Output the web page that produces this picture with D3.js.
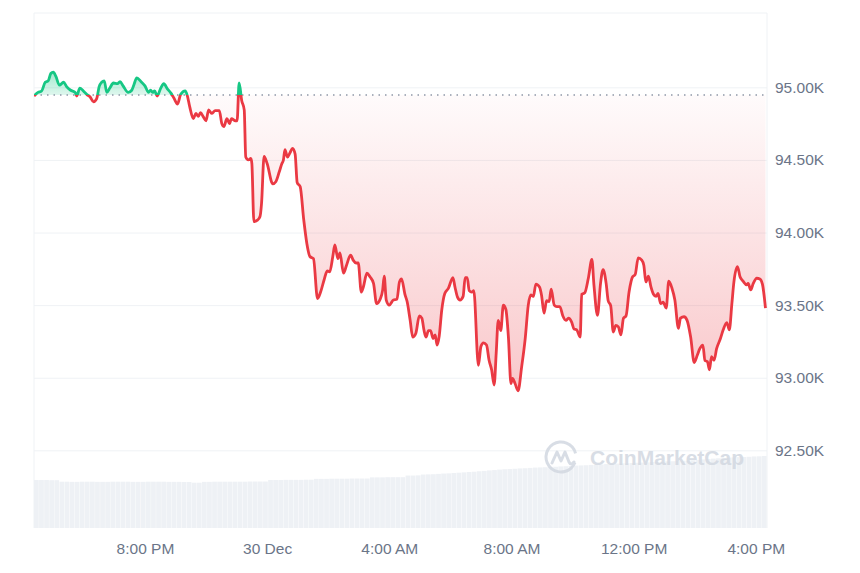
<!DOCTYPE html>
<html>
<head>
<meta charset="utf-8">
<script src="https://cdn.jsdelivr.net/npm/d3@7"></script>
<style>
  body { margin: 0; background: #fff; }
  svg { display: block; font-family: "Liberation Sans", Arial, sans-serif; }
</style>
</head>
<body>
<svg width="860" height="573"></svg>
<script>
// BTC price, last 24h (minutes after 29 Dec 16:22)
var startTime = new Date(2024, 11, 29, 16, 22);
var openPrice = 94948;

var minutes = [0,8,15,22,28,33,38,43,50,58,64,72,81,84,90,97,104,110,117,123,128,133,138,143,149,156,164,169,175,185,192,196,202,210,218,225,229,233,237,242,249,255,262,269,275,282,288,297,301,
  306,313,318,323,327,333,338,343,349,356,364,369,373,379,384,388,395,399,403,408,413,416,421,426,428,432,439,444,447,452,458,469,475,482,487,490,493,498,503,508,513,517,523,530,536,542,549,557,563,570,576,
  581,587,591,597,601,608,614,622,627,633,637,643,647,654,660,667,673,680,685,688,692,698,706,713,718,722,729,733,739,744,750,757,762,766,770,775,779,784,788,792,796,801,807,814,823,827,832,837,843,847,851,855,860,864,
  873,878,883,889,894,899,904,908,912,917,922,927,932,937,940,945,951,958,965,971,976,981,986,993,997,1002,1007,1012,1016,1022,1027,1033,1039,1045,1050,1056,1061,1066,1073,1076,1082,1089,1096,1100,1107,1113,1118,1124,1128,1133,
  1138,1143,1148,1153,1158,1163,1169,1176,1181,1187,1194,1198,1202,1207,1212,1217,1222,1226,1231,1236,1242,1247,1253,1259,1266,1270,1277,1283,1290,1297,1303,1308,1314,1318,1323,1327,1331,1336,1341,1348,1354,1361,1366,1371,1375,1382,1387,1393,1400,1403,1408,1413,1420,1426,1431,1437];

var prices = [94940,94965,94975,95035,95045,95095,95105,95075,95015,95035,95005,94980,94965,94940,94995,94975,94950,94935,94900,94920,95005,95035,95045,94965,94995,95030,95025,95040,95010,94965,94980,95015,95065,95040,95010,94965,94980,94965,94975,94940,94995,95025,94990,94960,94925,94885,94950,94975,94945,
  94865,94785,94820,94800,94825,94795,94770,94845,94820,94840,94840,94750,94730,94785,94750,94785,94770,94770,95030,94910,94845,94520,94500,94510,94475,94075,94085,94110,94200,94525,94475,94335,94350,94420,94475,94500,94570,94520,94550,94580,94540,94345,94315,94085,93925,93835,93820,93545,93590,93675,93735,
  93730,93835,93915,93820,93860,93720,93775,93845,93810,93790,93790,93590,93625,93720,93695,93650,93510,93540,93605,93700,93535,93500,93535,93540,93660,93680,93570,93525,93395,93280,93305,93425,93410,93330,93280,93325,93325,93270,93295,93225,93285,93465,93580,93615,93690,93625,93555,93535,93560,93690,93690,93600,93590,93600,
  93085,93215,93240,93225,93120,93055,92950,93170,93395,93325,93500,93470,93280,92960,92995,92960,92910,93075,93270,93500,93570,93560,93645,93625,93570,93445,93530,93525,93610,93500,93490,93490,93425,93395,93410,93385,93335,93330,93280,93575,93585,93685,93815,93640,93430,93650,93745,93650,93530,93495,
  93315,93360,93350,93295,93410,93425,93590,93695,93710,93825,93810,93775,93660,93700,93625,93575,93560,93580,93510,93520,93480,93665,93620,93535,93340,93410,93420,93395,93280,93105,93155,93200,93225,93120,93110,93055,93145,93120,93200,93265,93330,93380,93330,93510,93660,93765,93695,93665,93640,93650,93605,93650,93685,93680,93645,93480];

// 24h volume (billion USD), one value per 10 minutes
var volumeStep = 10;
var volumes = [28.9,28.9,28.9,28.8,28.8,
  27.9,27.9,27.8,27.8,27.9,27.9,27.9,27.8,27.8,27.8,27.9,27.9,27.9,27.9,27.8,27.8,27.8,27.9,27.9,27.9,27.9,27.8,27.8,27.8,27.7,27.7,
  27.3,27.3,
  27.8,27.8,27.9,27.9,27.9,27.9,27.9,27.9,27.9,28.0,28.0,28.0,28.0,
  28.9,28.9,28.9,29.0,29.0,29.0,29.0,29.1,29.1,
  29.6,29.6,29.6,29.7,29.7,29.7,29.7,29.8,29.8,29.8,29.8,
  30.5,30.5,30.5,30.6,30.6,30.6,30.6,
  31.6,31.6,31.7,
  32.2,32.3,32.4,32.6,32.8,32.9,33.1,33.3,33.5,
  33.7,33.9,34.2,34.4,34.7,34.9,35.2,
  35.4,35.5,35.7,35.9,36.0,36.2,36.4,36.5,
  36.6,36.8,36.9,37.1,37.2,37.4,37.6,37.7,
  37.8,38.0,38.1,38.3,38.5,38.6,38.8,38.9,
  39.0,39.1,39.3,39.4,39.5,39.7,39.8,39.9,40.1,40.2,40.4,40.5,
  40.6,40.8,41.0,41.3,41.5,41.8,42.0,42.2,
  42.4,42.5,42.7,42.8,42.9,43.1,43.2,43.4];

var yTicks = [92500, 93000, 93500, 94000, 94500, 95000];
var xTickTimes = [new Date(2024, 11, 29, 20), new Date(2024, 11, 30, 0), new Date(2024, 11, 30, 4),
                  new Date(2024, 11, 30, 8), new Date(2024, 11, 30, 12), new Date(2024, 11, 30, 16)];
var xTickLabels = ["8:00 PM", "30 Dec", "4:00 AM", "8:00 AM", "12:00 PM", "4:00 PM"];

var green = "#16c784", red = "#ea3943";

var svg = d3.select("svg"),
    margin = {top: 13, right: 93, bottom: 45, left: 34},
    width = +svg.attr("width") - margin.left - margin.right,
    height = +svg.attr("height") - margin.top - margin.bottom,
    g = svg.append("g").attr("transform", "translate(" + margin.left + "," + margin.top + ")");

var data = minutes.map(function(m, i) {
  return {date: d3.timeMinute.offset(startTime, m), price: prices[i]};
});

var x = d3.scaleTime()
    .domain([startTime, d3.timeMinute.offset(startTime, 1440)])
    .range([0, width]);
var y = d3.scaleLinear().domain([91965, 95512]).range([height, 0]);
var yVol = d3.scaleLinear().domain([0, 50]).range([height, height - 83]);

var base = y(openPrice);

// frame + grid
g.append("g")
    .call(d3.axisLeft(y).tickValues(yTicks).tickSize(-width).tickFormat(""))
    .call(function(s) {
      s.select(".domain").remove();
      s.selectAll("line").attr("stroke", "#eff2f5");
    });
g.append("path")
    .attr("d", "M0," + height + "V0H" + width + "V" + height)
    .attr("fill", "none")
    .attr("stroke", "#eff2f5");

// volume
g.append("g").selectAll("rect")
  .data(volumes)
  .enter().append("rect")
    .attr("x", function(d, i) { return x(d3.timeMinute.offset(startTime, i * volumeStep)); })
    .attr("width", function(d, i) {
      return x(d3.timeMinute.offset(startTime, (i + 1) * volumeStep)) - x(d3.timeMinute.offset(startTime, i * volumeStep)) - 0.35;
    })
    .attr("y", function(d) { return yVol(d); })
    .attr("height", function(d) { return height - yVol(d); })
    .attr("fill", "#eef1f5");

// watermark
var wm = g.append("g").attr("transform", "translate(527,444)").attr("opacity", 0.85);
wm.append("path")
    .attr("d", d3.arc()({innerRadius: 13.5, outerRadius: 16.5, startAngle: Math.PI * 0.62, endAngle: Math.PI * 2.42}))
    .attr("fill", "#d2d8e1");
wm.append("path")
    .attr("d", "M-9,6 L-4,-5 L0,4 L4,-5 L8,5 Q10,9 13,5")
    .attr("fill", "none")
    .attr("stroke", "#d2d8e1")
    .attr("stroke-width", 3)
    .attr("stroke-linejoin", "round")
    .attr("stroke-linecap", "round");
wm.append("text")
    .attr("x", 29)
    .attr("y", 8)
    .attr("font-size", "21px")
    .attr("font-weight", "bold")
    .attr("fill", "#d2d8e1")
    .text("CoinMarketCap");

// clip + gradients
var defs = svg.append("defs");
defs.append("clipPath").attr("id", "clip-up")
  .append("rect").attr("x", 0).attr("y", -10).attr("width", width).attr("height", base + 10);
defs.append("clipPath").attr("id", "clip-down")
  .append("rect").attr("x", 0).attr("y", base).attr("width", width).attr("height", height - base);

var gUp = defs.append("linearGradient").attr("id", "grad-up")
    .attr("gradientUnits", "userSpaceOnUse")
    .attr("x1", 0).attr("x2", 0).attr("y1", base).attr("y2", y(d3.max(prices)));
gUp.append("stop").attr("offset", 0).attr("stop-color", green).attr("stop-opacity", 0.14);
gUp.append("stop").attr("offset", 1).attr("stop-color", green).attr("stop-opacity", 0.4);

var gDown = defs.append("linearGradient").attr("id", "grad-down")
    .attr("gradientUnits", "userSpaceOnUse")
    .attr("x1", 0).attr("x2", 0).attr("y1", base).attr("y2", y(d3.min(prices)));
gDown.append("stop").attr("offset", 0).attr("stop-color", red).attr("stop-opacity", 0.02);
gDown.append("stop").attr("offset", 1).attr("stop-color", red).attr("stop-opacity", 0.28);

var area = d3.area()
    .curve(d3.curveMonotoneX)
    .x(function(d) { return x(d.date); })
    .y0(base)
    .y1(function(d) { return y(d.price); });

var line = d3.line()
    .curve(d3.curveMonotoneX)
    .x(function(d) { return x(d.date); })
    .y(function(d) { return y(d.price); });

g.append("path").datum(data)
    .attr("clip-path", "url(#clip-up)")
    .attr("fill", "url(#grad-up)")
    .attr("d", area);
g.append("path").datum(data)
    .attr("clip-path", "url(#clip-down)")
    .attr("fill", "url(#grad-down)")
    .attr("d", area);

// open price reference
g.append("line")
    .attr("x1", 0).attr("x2", width)
    .attr("y1", base).attr("y2", base)
    .attr("stroke", "#8f98a8")
    .attr("stroke-width", 1.5)
    .attr("stroke-dasharray", "1.5,5");

g.append("path").datum(data)
    .attr("clip-path", "url(#clip-up)")
    .attr("fill", "none")
    .attr("stroke", green)
    .attr("stroke-width", 2.8)
    .attr("stroke-linejoin", "round")
    .attr("d", line);
g.append("path").datum(data)
    .attr("clip-path", "url(#clip-down)")
    .attr("fill", "none")
    .attr("stroke", red)
    .attr("stroke-width", 2.8)
    .attr("stroke-linejoin", "round")
    .attr("d", line);

// axes
g.append("g")
    .attr("transform", "translate(" + width + ",0)")
    .call(d3.axisRight(y).tickValues(yTicks).tickSize(0).tickPadding(8)
      .tickFormat(function(d) { return (d / 1000).toFixed(2) + "K"; }))
    .call(function(s) {
      s.select(".domain").remove();
      s.selectAll("text").attr("fill", "#6b7588").style("font-size", "15.5px");
    });

g.append("g")
    .attr("transform", "translate(0," + height + ")")
    .call(d3.axisBottom(x).tickValues(xTickTimes).tickSize(0).tickPadding(15)
      .tickFormat(function(d, i) { return xTickLabels[i]; }))
    .call(function(s) {
      s.select(".domain").remove();
      s.selectAll("text").attr("fill", "#6b7588").style("font-size", "15.5px");
    });
</script>
</body>
</html>
